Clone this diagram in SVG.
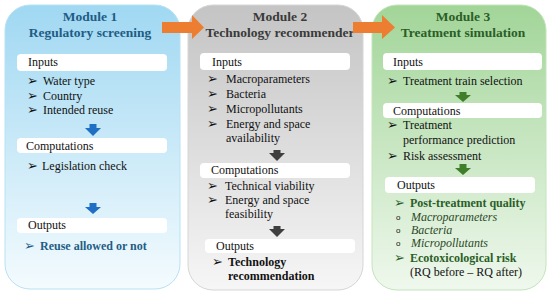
<svg xmlns="http://www.w3.org/2000/svg" width="550" height="295" viewBox="0 0 550 295">
<defs>
<linearGradient id="gBlue" x1="0" y1="0" x2="0" y2="1">
<stop offset="0" stop-color="#a0d8f2"/><stop offset="1" stop-color="#f4fbfe"/>
</linearGradient>
<linearGradient id="gGray" x1="0" y1="0" x2="0" y2="1">
<stop offset="0" stop-color="#c4c4c4"/><stop offset="1" stop-color="#f6f6f6"/>
</linearGradient>
<linearGradient id="gGreen" x1="0" y1="0" x2="0" y2="1">
<stop offset="0" stop-color="#a2d598"/><stop offset="1" stop-color="#eff8ed"/>
</linearGradient>
<style>
text{font-family:"Liberation Serif","Times New Roman",serif;font-size:12px;fill:#111}
.t{font-size:13.5px;font-weight:bold;text-anchor:middle}
.b{font-family:"DejaVu Sans",sans-serif;font-size:13px}
.o{font-family:"Liberation Sans",Arial,sans-serif;font-size:8px}
.sub{fill:#fff}
.bold{font-weight:bold}
.it{font-style:italic}
</style>
</defs>
<g id="module-1">
<rect x="5" y="5" width="175" height="284" rx="25" fill="url(#gBlue)" stroke="#b8e1f3" stroke-width="1"/>
<text class="t" x="90" y="21" style="fill:#1f5d86">Module 1</text>
<text class="t" x="90" y="37" style="fill:#1f5d86">Regulatory screening</text>
<rect class="sub" x="17" y="54" width="150" height="17" rx="4"/>
<text x="28" y="66">Inputs</text>
<text class="b" x="27" y="85">➢</text><text x="43" y="85">Water type</text>
<text class="b" x="27" y="100">➢</text><text x="43" y="100">Country</text>
<text class="b" x="27" y="114">➢</text><text x="43" y="114">Intended reuse</text>
<rect class="sub" x="17" y="138" width="150" height="15" rx="4"/>
<text x="26" y="150">Computations</text>
<text class="b" x="27" y="170">➢</text><text x="42" y="170">Legislation check</text>
<rect class="sub" x="17" y="218" width="150" height="15" rx="4"/>
<text x="28" y="229">Outputs</text>
<text class="b" x="24" y="250" style="fill:#1f5d86">➢</text><text class="bold" x="40" y="250" style="fill:#1f5d86">Reuse allowed or not</text>
</g>
<g id="module-2">
<rect x="188" y="5" width="175" height="285" rx="25" fill="url(#gGray)" stroke="#d6d6d6" stroke-width="1"/>
<text class="t" x="280" y="21" style="fill:#3a3a3a">Module 2</text>
<text class="t" x="280" y="37" style="fill:#3a3a3a">Technology recommender</text>
<rect class="sub" x="200" y="53" width="150" height="17" rx="4"/>
<text x="212" y="66">Inputs</text>
<text class="b" x="207" y="83">➢</text><text x="226" y="83">Macroparameters</text>
<text class="b" x="207" y="98">➢</text><text x="226" y="98">Bacteria</text>
<text class="b" x="207" y="113">➢</text><text x="226" y="113">Micropollutants</text>
<text class="b" x="207" y="128">➢</text><text x="226" y="128">Energy and space</text>
<text x="226" y="142">availability</text>
<rect class="sub" x="200" y="163" width="150" height="15" rx="4"/>
<text x="211" y="174">Computations</text>
<text class="b" x="207" y="190">➢</text><text x="225" y="190">Technical viability</text>
<text class="b" x="207" y="204">➢</text><text x="225" y="204">Energy and space</text>
<text x="225" y="218">feasibility</text>
<rect class="sub" x="205" y="239" width="150" height="14" rx="4"/>
<text x="216" y="250">Outputs</text>
<text class="b" x="212" y="266">➢</text><text class="bold" x="228" y="266">Technology</text>
<text class="bold" x="228" y="280">recommendation</text>
</g>
<g id="module-3">
<rect x="372" y="5" width="174" height="285" rx="25" fill="url(#gGreen)" stroke="#c3e4bb" stroke-width="1"/>
<text class="t" x="463" y="21" style="fill:#2b5e28">Module 3</text>
<text class="t" x="463" y="37" style="fill:#2b5e28">Treatment simulation</text>
<rect class="sub" x="383" y="53" width="159" height="17" rx="4"/>
<text x="393" y="66">Inputs</text>
<text class="b" x="387" y="85">➢</text><text x="403" y="85">Treatment train selection</text>
<rect class="sub" x="383" y="103" width="159" height="15" rx="4"/>
<text x="393" y="115">Computations</text>
<text class="b" x="387" y="129">➢</text><text x="403" y="129">Treatment</text>
<text x="403" y="144">performance prediction</text>
<text class="b" x="387" y="160">➢</text><text x="403" y="160">Risk assessment</text>
<rect class="sub" x="385" y="177" width="150" height="16" rx="4"/>
<text x="397" y="189">Outputs</text>
<text class="b" x="394" y="207" style="fill:#2b5e28">➢</text><text class="bold" x="410" y="207" style="fill:#2b5e28">Post-treatment quality</text>
<text class="o" x="396" y="220">o</text><text class="it" x="411" y="221" style="fill:#2b4a28">Macroparameters</text>
<text class="o" x="396" y="233">o</text><text class="it" x="411" y="234" style="fill:#2b4a28">Bacteria</text>
<text class="o" x="396" y="246">o</text><text class="it" x="411" y="247" style="fill:#2b4a28">Micropollutants</text>
<text class="b" x="394" y="262" style="fill:#2b5e28">➢</text><text class="bold" x="410" y="262" style="fill:#2b5e28">Ecotoxicological risk</text>
<text x="410" y="276">(RQ before – RQ after)</text>
</g>
<g id="connectors">
<polygon points="162,22 192,22 192,15 204,27.5 192,39 192,33 162,33" fill="#ed7d31"/>
<polygon points="353,22 382,22 382,15 395,27.5 382,39 382,33 353,33" fill="#ed7d31"/>
<polygon points="89.5,124 96.5,124 96.5,128 101,128 93,136 85,128 89.5,128" fill="#1f6fc4"/>
<polygon points="89.5,203 96.5,203 96.5,207 101,207 93,214 85,207 89.5,207" fill="#1f6fc4"/>
<polygon points="273.5,150 280.5,150 280.5,153 285,153 277,161 269,153 273.5,153" fill="#3f3f3f"/>
<polygon points="273.5,226 280.5,226 280.5,229 285,229 277,237 269,229 273.5,229" fill="#3f3f3f"/>
<polygon points="459.5,92 466.5,92 466.5,95 471,95 463,102 455,95 459.5,95" fill="#3f7f2a"/>
<polygon points="459.5,164 466.5,164 466.5,168 471,168 463,175 455,168 459.5,168" fill="#3f7f2a"/>
</g>
</svg>
